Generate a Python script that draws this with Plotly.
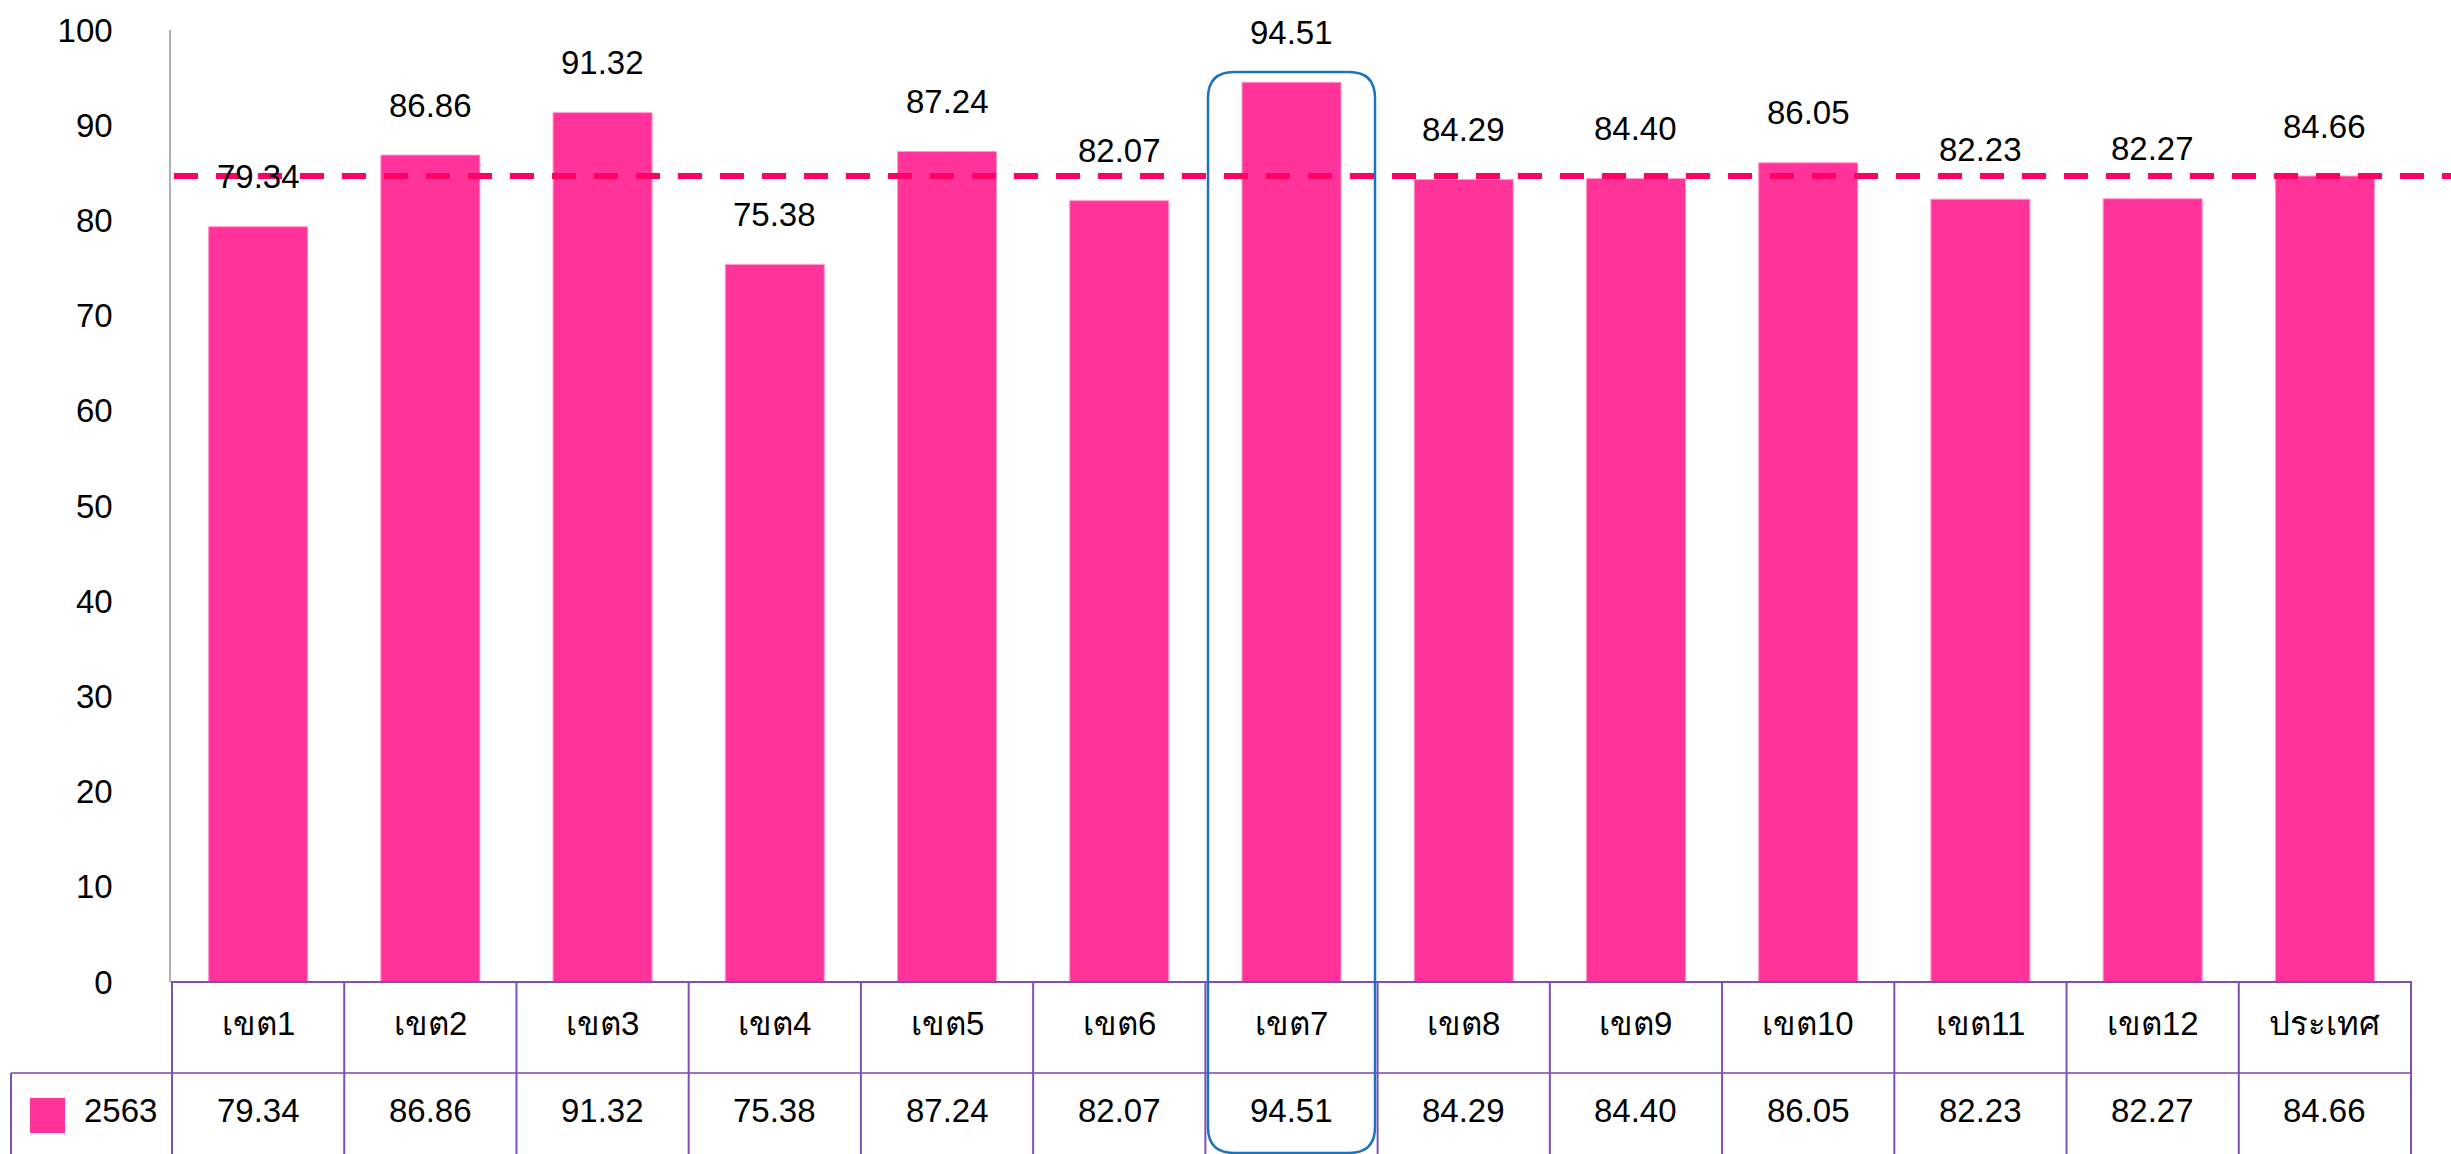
import plotly.graph_objects as go

# data
regions = ["เขต1", "เขต2", "เขต3", "เขต4", "เขต5", "เขต6", "เขต7",
           "เขต8", "เขต9", "เขต10", "เขต11", "เขต12", "ประเทศ"]
scores_2563 = [79.34, 86.86, 91.32, 75.38, 87.24, 82.07, 94.51,
               84.29, 84.40, 86.05, 82.23, 82.27, 84.66]
series_name = "2563"
country_avg = 84.66
highlight = "เขต7"

W, H = 2451, 1154
FONT = "Liberation Sans, Arial, sans-serif"
FS = 33
PINK = "#FF3399"
PURPLE = "#7E4FB5"


def px_x(v):
    return v / W


def px_y(v):
    return (H - v) / H


fig = go.Figure()
fig.add_trace(go.Bar(
    x=regions, y=scores_2563, name=series_name,
    marker=dict(color=PINK, line=dict(color="#FF9ACB", width=1)),
    width=0.575, showlegend=False, hoverinfo="x+y",
))

annotations = []
# value labels above bars
for r, v in zip(regions, scores_2563):
    annotations.append(dict(x=r, y=v, xref="x", yref="y", text=f"{v:.2f}",
                            showarrow=False, yanchor="middle", yshift=50,
                            font=dict(size=FS, color="black", family=FONT)))
# table header row and value row
for r, v in zip(regions, scores_2563):
    annotations.append(dict(x=r, y=px_y(1023), xref="x", yref="paper", text=r,
                            showarrow=False, yanchor="middle",
                            font=dict(size=FS, color="black", family=FONT)))
    annotations.append(dict(x=r, y=px_y(1110), xref="x", yref="paper", text=f"{v:.2f}",
                            showarrow=False, yanchor="middle",
                            font=dict(size=FS, color="black", family=FONT)))
annotations.append(dict(x=px_x(82), y=px_y(1110), xref="paper", yref="paper",
                        text=series_name, showarrow=False, xanchor="left", yanchor="middle",
                        font=dict(size=FS, color="black", family=FONT)))

shapes = []
# average dashed line
shapes.append(dict(type="line", xref="paper", yref="y", x0=px_x(174), x1=1,
                   y0=country_avg, y1=country_avg,
                   line=dict(color="#FF0066", width=6, dash="24px,18px")))
# table grid
shapes.append(dict(type="line", xref="paper", yref="paper", x0=px_x(171), x1=px_x(2412),
                   y0=px_y(982), y1=px_y(982), line=dict(color=PURPLE, width=2)))
shapes.append(dict(type="line", xref="paper", yref="paper", x0=px_x(11), x1=px_x(2412),
                   y0=px_y(1073), y1=px_y(1073), line=dict(color="#9A72C8", width=2)))
for i in range(len(regions) + 1):
    shapes.append(dict(type="line", xref="x", yref="paper", x0=i - 0.5, x1=i - 0.5,
                       y0=px_y(982), y1=0, line=dict(color=PURPLE, width=2)))
shapes.append(dict(type="line", xref="paper", yref="paper", x0=px_x(11), x1=px_x(11),
                   y0=px_y(1073), y1=0, line=dict(color=PURPLE, width=2)))
# legend swatch
shapes.append(dict(type="rect", xref="paper", yref="paper", x0=px_x(30), x1=px_x(65),
                   y0=px_y(1133), y1=px_y(1098), fillcolor=PINK, line=dict(width=0)))

# rounded highlight box around selected region
hi = regions.index(highlight)
plot_l, plot_r = 171, 2412
cw = (plot_r - plot_l) / len(regions)
cx = plot_l + (hi + 0.5) * cw
x0, x1 = px_x(cx - 83.5), px_x(cx + 83.5)
y0, y1 = px_y(1153), px_y(72)
rx, ry = px_x(26), 26 / H
path = (f"M {x0 + rx},{y1} L {x1 - rx},{y1} Q {x1},{y1} {x1},{y1 - ry} "
        f"L {x1},{y0 + ry} Q {x1},{y0} {x1 - rx},{y0} L {x0 + rx},{y0} "
        f"Q {x0},{y0} {x0},{y0 + ry} L {x0},{y1 - ry} Q {x0},{y1} {x0 + rx},{y1} Z")
shapes.append(dict(type="path", xref="paper", yref="paper", path=path,
                   line=dict(color="#1E73BE", width=2.5)))

fig.update_layout(
    width=W, height=H,
    margin=dict(l=0, r=0, t=0, b=0, autoexpand=False),
    paper_bgcolor="white", plot_bgcolor="white",
    font=dict(family=FONT, size=FS, color="black"),
    xaxis=dict(domain=[px_x(plot_l), px_x(plot_r)], showticklabels=False,
               showgrid=False, zeroline=False, showline=False, ticks="",
               automargin=False),
    yaxis=dict(domain=[px_y(982), px_y(30)], range=[0, 100], dtick=10,
               showgrid=False, zeroline=False, showline=True, linecolor="#B0B0B0",
               linewidth=1.5, ticks="", ticklabelstandoff=50, automargin=False,
               tickfont=dict(size=FS, color="black", family=FONT)),
    annotations=annotations,
    shapes=shapes,
    bargap=0.425,
)

fig.write_html("out.html", config={"displayModeBar": False},
               post_script="document.body.style.margin='0';")
